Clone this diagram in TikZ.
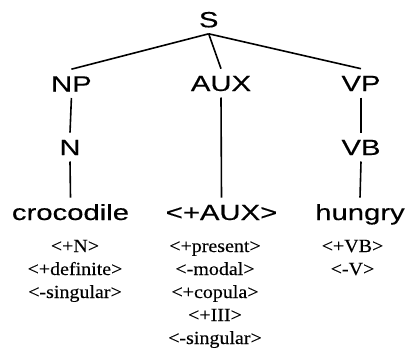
\documentclass[tikz,border=0pt]{standalone}
\usepackage{fontspec}
\newfontfamily\labfont[FakeStretch=1.33,FakeBold=0.4]{Liberation Sans}
\newfontfamily\featfont[FakeStretch=1.08,FakeBold=0.2]{Liberation Serif}
\begin{document}
\begin{tikzpicture}[x=1pt,y=-1pt,
  lab/.style={font=\labfont\fontsize{22}{26}\selectfont, inner sep=0pt, outer ysep=6.5pt,
    text height=15.8pt, text depth=0pt, anchor=base},
  feat/.style={font=\featfont\fontsize{18.5}{23}\selectfont, inner sep=0pt, anchor=base},
  edge/.style={line width=1.6pt, black}]
\useasboundingbox (0,0) rectangle (406,356);
\node[lab] (S) at (208.7,27.3) {S};
\node[lab] (NP) at (71.4,91.5) {NP};
\node[lab] (AUX) at (221,91) {AUX};
\node[lab] (VP) at (361,91) {VP};
\node[lab] (N) at (70,155) {N};
\node[lab] (VB) at (361,155) {VB};
\node[lab] (croc) at (70.5,220) {crocodile};
\node[lab] (aux) at (221.5,220) {<+AUX>};
\node[lab] (hung) at (360,220) {hungry};
\draw[edge] (S.south) -- (NP.north);
\draw[edge] (S.south) -- (AUX.north);
\draw[edge] (S.south) -- (VP.north);
\draw[edge] (NP.south) -- (N.north);
\draw[edge] (N.south) -- (croc.north);
\draw[edge] (AUX.south) -- (aux.north);
\draw[edge] (VP.south) -- (VB.north);
\draw[edge] (VB.south) -- (hung.north);
\node[feat] (a1) at (75,252) {<+N>};
\node[feat] (a2) at (75,275) {<+definite>};
\node[feat] (a3) at (75,298) {<-singular>};
\node[feat] (b1) at (215,252) {<+present>};
\node[feat] (b2) at (215,275) {<-modal>};
\node[feat] (b3) at (215,298) {<+copula>};
\node[feat] (b4) at (215,321) {<+III>};
\node[feat] (b5) at (215,344) {<-singular>};
\node[feat] (c1) at (352.5,252) {<+VB>};
\node[feat] (c2) at (352.5,275) {<-V>};
\end{tikzpicture}
\end{document}
